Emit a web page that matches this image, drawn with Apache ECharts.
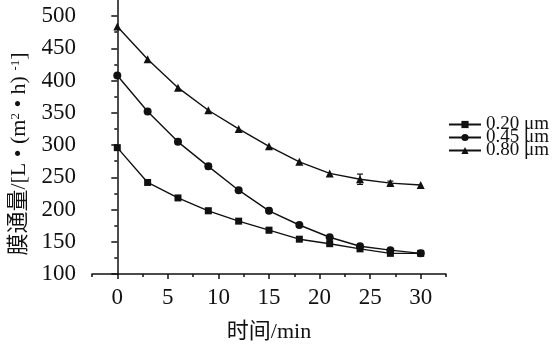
<!DOCTYPE html>
<html>
<head>
<meta charset="utf-8">
<script src="https://cdn.jsdelivr.net/npm/echarts@6/dist/echarts.min.js"></script>
<style>
  html, body { margin: 0; padding: 0; background: #fff; }
  #chart { width: 559px; height: 348px; }
</style>
</head>
<body>
<div id="chart"></div>
<script>
// Sampling times (min)
const times = [0, 3, 6, 9, 12, 15, 18, 21, 24, 27, 30];

// Membrane flux, L/(m²·h), per pore size
const flux020 = [296, 242, 218, 198, 182, 168, 154, 147, 139, 132, 132];
const flux045 = [408, 352, 305, 267, 230, 198, 176, 157, 143, 137, 132];
const flux080 = [484, 433, 389, 354, 325, 298, 274, 256, 247, 241, 238];

// Standard deviations for the error bars
const err020 = [0, 0, 2, 4, 0, 4, 0, 0, 2, 2, 0];
const err045 = [0, 0, 4, 4, 0, 4, 0, 0, 2, 2, 0];
const err080 = [0, 0, 0, 0, 0, 0, 0, 0, 8, 3, 0];

const seriesNames = ['0.20 μm', '0.45 μm', '0.80 μm'];

// Axis tick values
const xMajorTicks = [0, 5, 10, 15, 20, 25, 30];
const xMinorTicks = [-2.5, 2.5, 7.5, 12.5, 17.5, 22.5, 27.5, 32.5];
const yMajorTicks = [100, 150, 200, 250, 300, 350, 400, 450, 500];
const yMinorTicks = [125, 175, 225, 275, 325, 375, 425, 475];

const FONT = "'Liberation Serif', 'Times New Roman', 'Noto Sans CJK SC', serif";
const INK = '#111';

const pairs = (vals) => times.map((t, i) => [t, vals[i]]);
const errTriples = (vals, errs) => times.map((t, i) => [t, vals[i], errs[i]]);

function lineSeries(name, vals, symbol, size) {
  return {
    name: name,
    type: 'line',
    data: pairs(vals),
    symbol: symbol,
    symbolSize: size,
    color: INK,
    lineStyle: { color: INK, width: 1.4 },
    itemStyle: { color: INK },
    z: 3
  };
}

function errorSeries(vals, errs) {
  return {
    type: 'custom',
    data: errTriples(vals, errs),
    silent: true,
    z: 4,
    renderItem: function (params, api) {
      const x = api.value(0), y = api.value(1), e = api.value(2);
      if (!e) return null;
      const top = api.coord([x, y + e]);
      const bot = api.coord([x, y - e]);
      const cap = 3;
      const style = { stroke: INK, lineWidth: 1.2 };
      return {
        type: 'group',
        children: [
          { type: 'line', shape: { x1: top[0], y1: top[1], x2: bot[0], y2: bot[1] }, style: style },
          { type: 'line', shape: { x1: top[0] - cap, y1: top[1], x2: top[0] + cap, y2: top[1] }, style: style },
          { type: 'line', shape: { x1: bot[0] - cap, y1: bot[1], x2: bot[0] + cap, y2: bot[1] }, style: style }
        ]
      };
    }
  };
}

const axisLineStyle = { lineStyle: { color: INK, width: 1.5 } };

const chart = echarts.init(document.getElementById('chart'), null, { renderer: 'canvas' });
chart.setOption({
  backgroundColor: '#fff',
  animation: false,
  textStyle: { fontFamily: FONT },
  grid: { left: 92, right: 113, top: 0, bottom: 72 },
  legend: {
    orient: 'vertical',
    left: 448,
    top: 115,
    padding: 0,
    itemWidth: 32,
    itemHeight: 9,
    itemGap: -6,
    data: seriesNames,
    textStyle: { fontFamily: FONT, fontSize: 19, color: INK, padding: [0, 0, 0, 0] }
  },
  xAxis: [
    {
      type: 'value',
      min: -2.5,
      max: 32.5,
      name: '时间/min',
      nameLocation: 'middle',
      nameGap: 47,
      nameTextStyle: { fontFamily: FONT, fontSize: 22, color: INK },
      axisLine: axisLineStyle,
      axisTick: { show: true, length: 5, customValues: xMajorTicks, lineStyle: { color: INK, width: 1.5 } },
      axisLabel: { customValues: xMajorTicks, fontSize: 23, color: INK, margin: 12, fontFamily: FONT },
      splitLine: { show: false }
    },
    {
      type: 'value',
      min: -2.5,
      max: 32.5,
      position: 'bottom',
      axisLine: { show: false },
      axisTick: { show: true, length: 3, customValues: xMinorTicks, lineStyle: { color: INK, width: 1.5 } },
      axisLabel: { show: false },
      splitLine: { show: false }
    }
  ],
  yAxis: [
    {
      type: 'value',
      min: 100,
      max: 525,
      name: '{t|膜通量/[L • (m}{s|2}{t| • h) }{s|-1}{t|]}',
      nameLocation: 'middle',
      nameGap: 58,
      nameTextStyle: {
        padding: [0, 34, 0, 0],
        rich: {
          t: { fontFamily: FONT, fontSize: 22, color: INK },
          s: { fontFamily: FONT, fontSize: 13, color: INK, verticalAlign: 'top', padding: [0, 0, 9, 0] }
        }
      },
      axisLine: { show: true, lineStyle: { color: INK, width: 1.5 } },
      axisTick: { show: true, length: 6, customValues: yMajorTicks, lineStyle: { color: INK, width: 1.5 } },
      axisLabel: { customValues: yMajorTicks, fontSize: 23, color: INK, margin: 16, fontFamily: FONT },
      splitLine: { show: false }
    },
    {
      type: 'value',
      min: 100,
      max: 525,
      position: 'left',
      axisLine: { show: false },
      axisTick: { show: true, length: 3, customValues: yMinorTicks, lineStyle: { color: INK, width: 1.5 } },
      axisLabel: { show: false },
      splitLine: { show: false }
    }
  ],
  series: [
    lineSeries(seriesNames[0], flux020, 'rect', 7),
    lineSeries(seriesNames[1], flux045, 'circle', 8),
    lineSeries(seriesNames[2], flux080, 'triangle', 8),
    errorSeries(flux020, err020),
    errorSeries(flux045, err045),
    errorSeries(flux080, err080)
  ]
});
</script>
</body>
</html>
